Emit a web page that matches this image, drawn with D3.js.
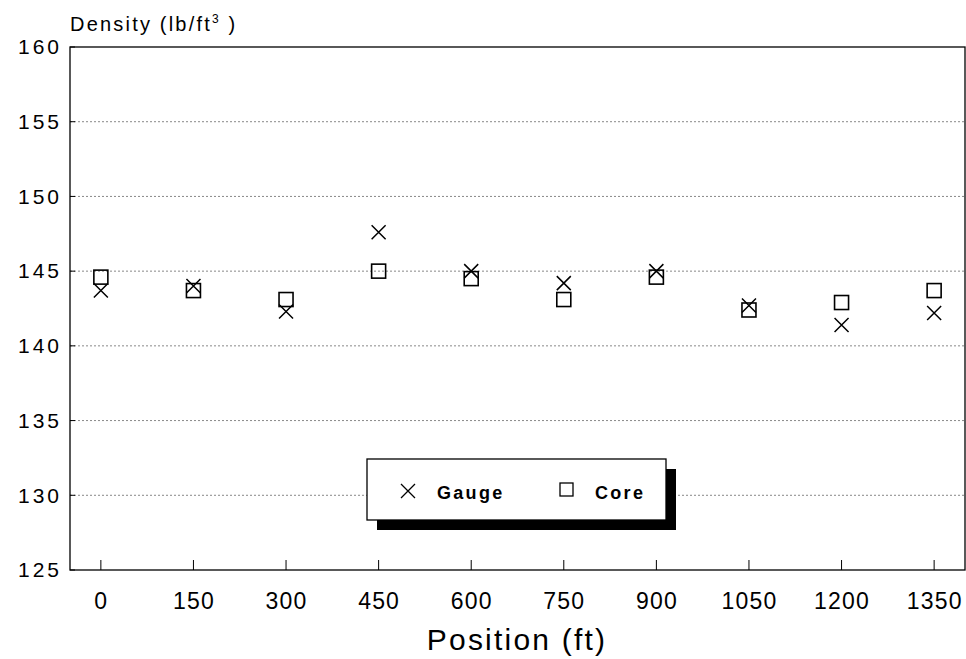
<!DOCTYPE html>
<html><head><meta charset="utf-8">
<script src="https://cdn.jsdelivr.net/npm/d3@7"></script>
<style>body{margin:0;background:#fff}svg{display:block}</style>
</head><body>
<script>
const positions = [0,150,300,450,600,750,900,1050,1200,1350];
const gauge = [143.7,144.0,142.3,147.6,145.0,144.2,145.0,142.7,141.4,142.2];
const core  = [144.6,143.7,143.1,145.0,144.5,143.1,144.6,142.4,142.9,143.7];
const yTicks = [125,130,135,140,145,150,155,160];
const xTickLabels = ["0","150","300","450","600","750","900","1050","1200","1350"];

const W=966,H=659;
const L=70,R=965,T=47,B=570;
const svg=d3.select("body").append("svg").attr("width",W).attr("height",H);
const x=d3.scaleLinear().domain([-50,1400]).range([L,R]);
const y=d3.scaleLinear().domain([125,160]).range([B,T]);
const font="Liberation Sans, Arial, sans-serif";

// gridlines
svg.append("g").selectAll("line").data(yTicks.filter(v=>v>125&&v<160)).join("line")
 .attr("x1",L).attr("x2",R).attr("y1",d=>y(d)).attr("y2",d=>y(d))
 .attr("stroke","#888").attr("stroke-width",1).attr("stroke-dasharray","2,2");

// frame
svg.append("rect").attr("x",L).attr("y",T).attr("width",R-L).attr("height",B-T)
 .attr("fill","none").attr("stroke","#000").attr("stroke-width",1.3);

// y axis
const ya=svg.append("g").attr("transform",`translate(${L},0)`)
 .call(d3.axisLeft(y).tickValues(yTicks).tickSize(0).tickPadding(8).tickFormat(d3.format("d")));
ya.select(".domain").remove();
ya.selectAll("text").attr("font-family",font).attr("font-size",21).attr("letter-spacing",3).attr("fill","#000");
svg.append("g").selectAll("line").data(yTicks).join("line")
 .attr("x1",L).attr("x2",L+5).attr("y1",d=>y(d)).attr("y2",d=>y(d)).attr("stroke","#000");

// x axis
const xa=svg.append("g").attr("transform",`translate(0,${B})`)
 .call(d3.axisBottom(x).tickValues(positions).tickSize(0).tickPadding(23).tickFormat((d,i)=>xTickLabels[i]));
xa.select(".domain").remove();
xa.selectAll("text").attr("font-family",font).attr("font-size",23).attr("letter-spacing",1.2).attr("fill","#000");
svg.append("g").selectAll("line").data(positions).join("line")
 .attr("x1",d=>x(d)).attr("x2",d=>x(d)).attr("y1",B).attr("y2",B-10).attr("stroke","#000");

// titles
svg.append("text").attr("x",70).attr("y",31).attr("font-family",font).attr("font-size",20).attr("letter-spacing",2.2)
 .attr("fill","#000").html('Density (lb/ft<tspan dy="-8" font-size="12">3</tspan><tspan dy="8"> )</tspan>');
svg.append("text").attr("x",517).attr("y",650).attr("text-anchor","middle")
 .attr("font-family",font).attr("font-size",30).attr("letter-spacing",2.2).attr("fill","#000").text("Position (ft)");

// markers
const s=7;
const gx=svg.append("g");
positions.forEach((p,i)=>{
  const cx=x(p),cy=y(gauge[i]);
  gx.append("path").attr("d",`M${cx-s},${cy-s}L${cx+s},${cy+s}M${cx-s},${cy+s}L${cx+s},${cy-s}`)
   .attr("stroke","#000").attr("stroke-width",1.5).attr("fill","none");
});
const gc=svg.append("g");
positions.forEach((p,i)=>{
  const cx=x(p),cy=y(core[i]);
  gc.append("rect").attr("x",cx-7).attr("y",cy-7).attr("width",14).attr("height",14)
   .attr("stroke","#000").attr("stroke-width",1.6).attr("fill","none");
});

// legend
const lg=svg.append("g");
lg.append("rect").attr("x",377).attr("y",469).attr("width",299).attr("height",61).attr("fill","#000");
lg.append("rect").attr("x",367).attr("y",459).attr("width",299).attr("height",61).attr("fill","#fff").attr("stroke","#000").attr("stroke-width",1.3);
const lx=408,ly=491;
lg.append("path").attr("d",`M${lx-7},${ly-7}L${lx+7},${ly+7}M${lx-7},${ly+7}L${lx+7},${ly-7}`).attr("stroke","#000").attr("stroke-width",1.3);
lg.append("text").attr("x",437).attr("y",499).attr("font-family",font).attr("font-size",18).attr("font-weight","bold").attr("letter-spacing",2.3).text("Gauge");
lg.append("rect").attr("x",560).attr("y",483).attr("width",13).attr("height",13).attr("fill","none").attr("stroke","#000").attr("stroke-width",1.3);
lg.append("text").attr("x",595).attr("y",499).attr("font-family",font).attr("font-size",18).attr("font-weight","bold").attr("letter-spacing",2.3).text("Core");
</script>
</body></html>
